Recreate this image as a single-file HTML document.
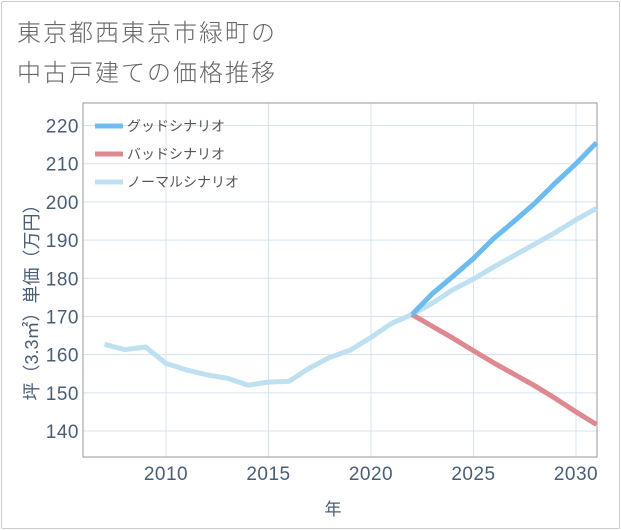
<!DOCTYPE html>
<html><head><meta charset="utf-8"><style>
body{margin:0;background:#fff;font-family:"Liberation Sans","Noto Sans CJK JP",sans-serif}
#wrap{position:relative;width:621px;height:530px;overflow:hidden}
#frame{position:absolute;left:1px;top:1px;width:617px;height:526px;border:1px solid #ccc;border-radius:2px}
.title{position:absolute;left:17px;font-size:24px;color:#666;letter-spacing:2px;font-weight:300}
</style></head><body>
<div id="wrap">
<div id="frame"></div>
<div class="title" style="top:13px">東京都西東京市緑町の</div>
<div class="title" style="top:53px">中古戸建ての価格推移</div>
<svg id="chart" width="621" height="530" style="position:absolute;left:0;top:0"></svg>
</div>
<script>
const years=[2007,2008,2009,2010,2011,2012,2013,2014,2015,2016,2017,2018,2019,2020,2021,2022,2023,2024,2025,2026,2027,2028,2029,2030,2031];
const normalValues=[162.7,161.3,162,157.7,156,154.7,153.8,152,152.8,153,156.5,159.3,161.2,164.5,168.2,170.5,173.5,177,179.8,183,186,189,192,195.3,198.3];
const futureYears=[2022,2023,2024,2025,2026,2027,2028,2029,2030,2031];
const goodValues=[170.5,176,180.5,185.2,190.5,195,199.7,205,210,215.5];
const badValues=[170.5,167.4,164.3,161,157.8,154.8,151.8,148.5,145,141.7];
const xTicks=[2010,2015,2020,2025,2030];
const yTicks=[140,150,160,170,180,190,200,210,220];
const legendLabels=["グッドシナリオ","バッドシナリオ","ノーマルシナリオ"];
const colors=["#6cbcf0","#de8890","#bfe0f0"];
const L=83,R=597,T=103,B=457;
const x=y=>166+(y-2010)*(576-166)/20;
const yS=v=>431-(v-140)*(431-125.5)/80;
const svg=document.getElementById('chart');
const NS='http://www.w3.org/2000/svg';
function mk(t,a){const e=document.createElementNS(NS,t);for(const k in a)e.setAttribute(k,a[k]);svg.appendChild(e);return e;}
for(const t of xTicks){const e=mk('line',{x1:x(t),x2:x(t),y1:T,y2:B,stroke:'#d5e3ef','stroke-width':1});


const tx=mk('text',{x:x(t),y:480,'text-anchor':'middle','font-size':19,fill:'#4a5d75','letter-spacing':'0.5'});tx.textContent=t;

}
for(const t of yTicks){const e=mk('line',{x1:L,x2:R,y1:yS(t),y2:yS(t),stroke:'#d5e3ef','stroke-width':1});


const tx=mk('text',{x:79,y:yS(t)+7,'text-anchor':'end','font-size':19,fill:'#4a5d75','letter-spacing':'0.5'});tx.textContent=t;

}
const border=mk('rect',{x:L,y:T,width:R-L,height:B-T,fill:'none',stroke:'#999','stroke-width':1});


function line(xs,vs,c,name){const p=mk('polyline',{points:xs.map((yy,i)=>x(yy)+','+yS(vs[i])).join(' '),fill:'none',stroke:c,'stroke-width':5,'stroke-linejoin':'round','stroke-linecap':'butt'});

}
line(years,normalValues,colors[2],'normal-scenario-line');
line(futureYears,badValues,colors[1],'bad-scenario-line');
line(futureYears,goodValues,colors[0],'good-scenario-line');
legendLabels.forEach((lb,i)=>{const yy=126+i*28;
const l=mk('line',{x1:95,x2:123,y1:yy,y2:yy,stroke:colors[i],'stroke-width':5});


const t=mk('text',{x:127,y:yy+5,'font-size':14,fill:'#555'});t.textContent=lb;

});
const xt=mk('text',{x:333,y:515,'text-anchor':'middle','font-size':17,fill:'#4a5d75'});xt.textContent='年';


const yt=mk('text',{x:0,y:0,'text-anchor':'middle','font-size':18,fill:'#4a5d75',transform:'translate(38,298) rotate(-90)'});yt.textContent='坪（3.3㎡）単価（万円）';


</script>
</body></html>
